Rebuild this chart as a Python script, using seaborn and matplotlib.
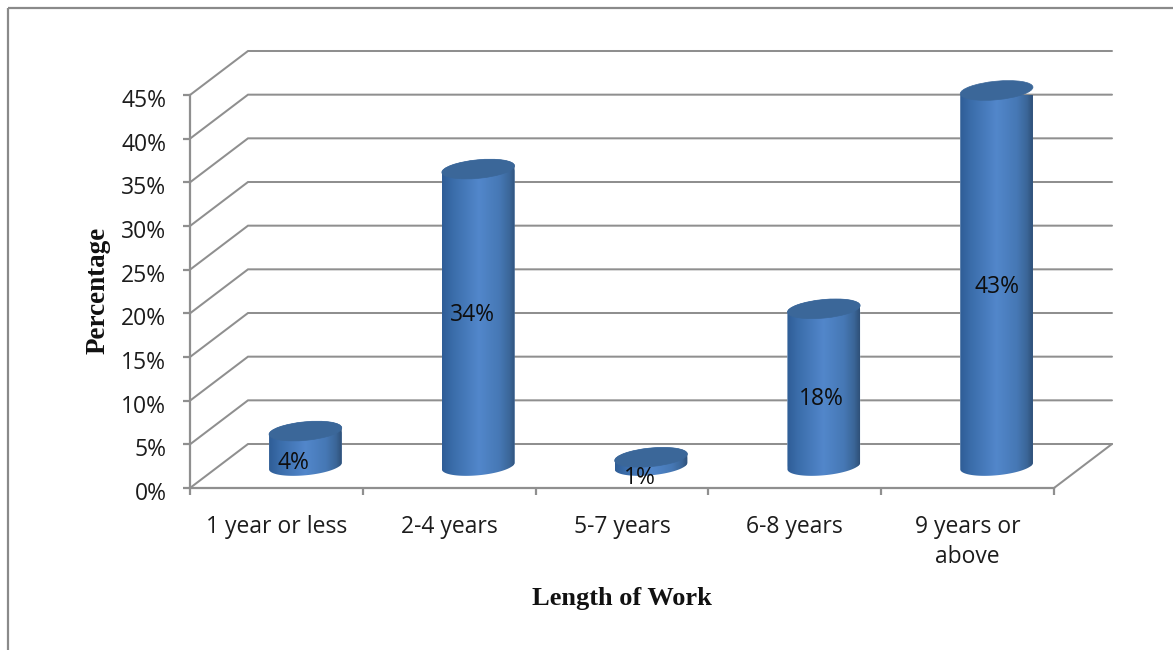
import numpy as np
import pandas as pd
import matplotlib
matplotlib.use("Agg")
import matplotlib.pyplot as plt
import seaborn as sns
from matplotlib.lines import Line2D
from matplotlib.patches import Ellipse, PathPatch
from matplotlib.path import Path
from matplotlib.colors import LinearSegmentedColormap
from matplotlib.transforms import IdentityTransform, ScaledTranslation

# Survey results
categories = ["1 year or less", "2-4 years", "5-7 years", "6-8 years", "9 years or\nabove"]
percentages = [4, 34, 1, 18, 43]
y_ticks = list(range(0, 50, 5))
x_title = "Length of Work"
y_title = "Percentage"

W, H = 1173, 650
DPI = 100
GRID = "#8f8f8f"
INK = "#1c1c1c"
TICK_FONT = ["Open Sans", "DejaVu Sans"]
TICK_SIZE = 16.5

sns.set_theme(style="white")
plt.rcParams["font.family"] = TICK_FONT

fig = plt.figure(figsize=(W / DPI, H / DPI), dpi=DPI, facecolor="white")

# The axes rectangle is the front plane of the 3-D box
left, right, top, bottom = 190, 1054, 95, 488
ax = fig.add_axes([left / W, 1 - bottom / H, (right - left) / W, (bottom - top) / H])
ax.patch.set_alpha(0)

frame = pd.DataFrame({"period": categories, "share": percentages})
sns.barplot(data=frame, x="period", y="share", ax=ax, color="#3f72ae",
            width=73 / 172.8, saturation=1, zorder=3)
ax.set_xlim(-0.5, 4.5)
ax.set_ylim(0, 45)

# Depth of the box, expressed in data units
px_per_cat = (right - left) / 5
px_per_pct = (bottom - top) / 45
depth_x = 58 / px_per_cat
depth_y = 44 / px_per_pct

# Back wall gridlines, connected to the front axis by diagonals
for t in y_ticks:
    ax.plot([-0.5, -0.5 + depth_x, 4.5 + depth_x], [t, t + depth_y, t + depth_y],
            color=GRID, lw=1.45, clip_on=False, zorder=1, solid_joinstyle="miter")
ax.plot([4.5, 4.5 + depth_x], [0, depth_y], color=GRID, lw=1.45, clip_on=False, zorder=1)

# Axes styling
for side in ("top", "right"):
    ax.spines[side].set_visible(False)
for side in ("left", "bottom"):
    ax.spines[side].set_color(GRID)
    ax.spines[side].set_linewidth(1.6)

ax.set_yticks(y_ticks)
ax.set_yticklabels([f"{t}%" for t in y_ticks], fontsize=TICK_SIZE, color=INK)
ax.tick_params(axis="y", left=True, length=5, width=1.6, color=GRID, pad=12)
ax.set_xticks(np.arange(-0.5, 5.0, 1))
ax.set_xticklabels([""] * 6)
ax.set_xticks(np.arange(5), labels=categories, minor=True)
ax.tick_params(axis="x", which="major", bottom=True, length=5, width=1.6, color=GRID)
ax.tick_params(axis="x", which="minor", bottom=False, length=0, pad=19.5, labelsize=TICK_SIZE,
               labelcolor=INK)
for lab in ax.get_xticklabels(minor=True):
    lab.set_linespacing(1.32)
for lab in ax.get_yticklabels():
    lab.set_transform(lab.get_transform() + ScaledTranslation(0, -3 / DPI, fig.dpi_scale_trans))

ax.set_xlabel("")
ax.set_ylabel("")
fig.text(622 / W, 1 - 599 / H, x_title, family="Liberation Serif", weight="bold", size=19,
         color="#111111", ha="center", va="center")
fig.text(98 / W, 1 - 290 / H, y_title, family="Liberation Serif", weight="bold", size=19.5,
         color="#111111", ha="center", va="center", rotation=90)

# Cylinders: each seaborn bar gets a shaded body and tilted elliptical ends
shade = LinearSegmentedColormap.from_list(
    "cylinder",
    [(0, "#2f5d96"), (0.14, "#3a6ca9"), (0.5, "#5287cb"), (0.78, "#4678b5"),
     (0.92, "#3b6698"), (1, "#2f5078")],
)
ramp = np.linspace(0, 1, 256)[None, :]
TILT = 5.5
ELL_H = 18.5
to_px = ax.transData
fig.canvas.draw()

# Horizontal and vertical nudge of every value label from its cylinder's axis
label_dx = [-12, -6, -11, -2, 0]
label_dy = [8, 25, 6, 10, 13]


def ellipse_points(cx, cy, w, h, start, stop):
    t = np.linspace(start, stop, 60)
    a = np.deg2rad(TILT)
    ex, ey = w / 2 * np.cos(t), h / 2 * np.sin(t)
    return np.c_[cx + ex * np.cos(a) - ey * np.sin(a), cy + ex * np.sin(a) + ey * np.cos(a)]


for i, bar in enumerate(ax.patches):
    bar.set_x(bar.get_x() + depth_x / 2)
    bar.set_y(depth_y / 2)
    x0, x1 = bar.get_x(), bar.get_x() + bar.get_width()
    xc = (x0 + x1) / 2
    base = to_px.transform((xc, depth_y / 2))
    crown = to_px.transform((xc, depth_y / 2 + bar.get_height()))
    wpx = (x1 - x0) * px_per_cat

    # Outline of the side wall: the front half of the base plus straight edges
    lower = ellipse_points(base[0], base[1], wpx, ELL_H, np.pi, 2 * np.pi)
    upper = ellipse_points(crown[0], crown[1], wpx, ELL_H, 0, np.pi)
    outline = np.vstack([lower, upper, lower[:1]])
    body = PathPatch(Path(outline, closed=True), transform=IdentityTransform(),
                     fc="none", ec="none")
    ax.add_patch(body)
    bar.set_clip_path(body)

    img = ax.imshow(ramp, extent=(x0, x1, 0, 60), cmap=shade, aspect="auto",
                    zorder=3.2, interpolation="bilinear")
    img.set_clip_path(body)

    cap = Ellipse(crown, wpx, ELL_H, angle=TILT, transform=IdentityTransform(),
                  fc="#3b6799", ec="#3b6799", lw=0.5, zorder=3.4)
    cap.set_clip_on(False)
    ax.add_patch(cap)

    ax.annotate(f"{percentages[i]}%", xy=(xc, bar.get_height() / 2), xycoords="data",
                xytext=(label_dx[i] * 0.72, label_dy[i] * 0.72), textcoords="offset points",
                ha="center", va="center", fontsize=TICK_SIZE, color="#0e0e0e", zorder=5,
                annotation_clip=False)

ax.set_xlim(-0.5, 4.5)
ax.set_ylim(0, 45)

# Thin outer border of the chart area, open at the right and bottom
frame_kw = dict(color="#8a8a8a", lw=1.6, transform=fig.transFigure, solid_capstyle="butt")
fig.add_artist(Line2D([8 / W, 8 / W], [0, 1 - 8 / H], **frame_kw))
fig.add_artist(Line2D([8 / W, 1], [1 - 8 / H, 1 - 8 / H], **frame_kw))

fig.savefig("out.png", dpi=DPI, facecolor="white")
